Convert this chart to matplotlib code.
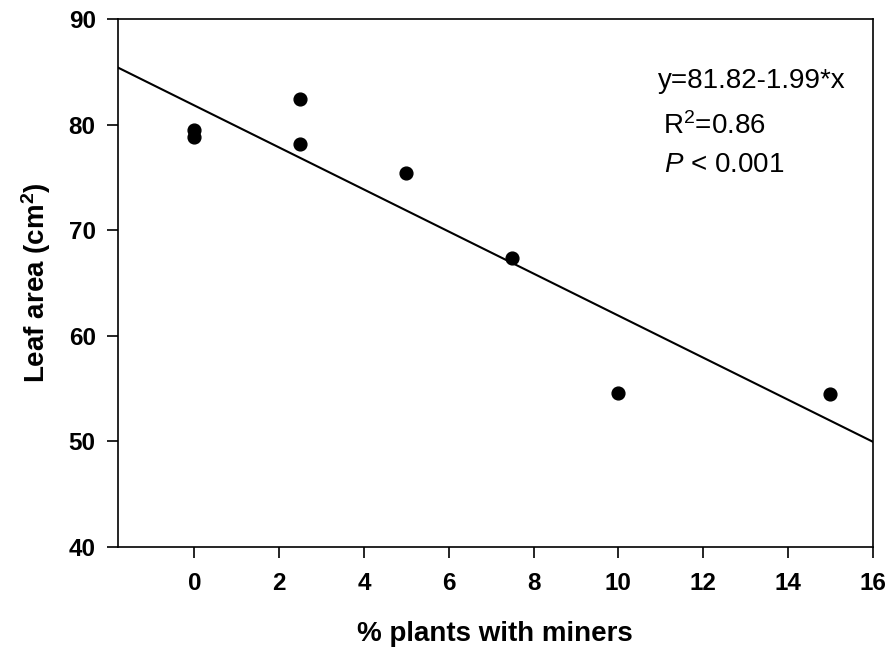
import matplotlib
matplotlib.use("Agg")
import matplotlib.pyplot as plt
import numpy as np

plt.rcParams['font.family'] = ['Liberation Sans', 'DejaVu Sans']
plt.rcParams['mathtext.fontset'] = 'custom'
plt.rcParams['mathtext.rm'] = 'Liberation Sans'
plt.rcParams['mathtext.it'] = 'Liberation Sans:italic'
plt.rcParams['mathtext.bf'] = 'Liberation Sans:bold'

# data
miners = [0, 0, 2.5, 2.5, 5, 7.5, 10, 15]
leaf_area = [79.5, 78.8, 82.4, 78.2, 75.4, 67.4, 54.6, 54.5]
intercept = 81.82
slope = -1.99
xticks = [0, 2, 4, 6, 8, 10, 12, 14, 16]
yticks = [40, 50, 60, 70, 80, 90]

fig = plt.figure(figsize=(8.89, 6.49), dpi=100)
ax = fig.add_axes([0.1327, 0.157, 0.849, 0.8137])

xfit = np.array([-1.8, 16])
ax.plot(xfit, intercept + slope * xfit, color='black', lw=1.5)
ax.plot(miners, leaf_area, 'o', color='black', ms=9.2, zorder=3)

ax.set_xlim(-1.8, 16)
ax.set_ylim(40, 90)
ax.set_xticks(xticks)
ax.set_yticks(yticks)
ax.tick_params(direction='out', length=8, width=1.2, labelsize=17.5)
ax.tick_params(axis='x', pad=10)
ax.tick_params(axis='y', pad=8)
for lab in ax.get_xticklabels() + ax.get_yticklabels():
    lab.set_fontweight('bold')
for sp in ax.spines.values():
    sp.set_linewidth(1.2)

ax.set_xlabel('% plants with miners', fontsize=20, fontweight='bold', labelpad=19)
ax.set_ylabel('Leaf area (cm$^\\mathbf{2}$)', fontsize=20, fontweight='bold', labelpad=11)

ax.text(0.715, 0.869, 'y=81.82-1.99*x', transform=ax.transAxes, fontsize=20)
ax.text(0.722, 0.783, 'R$^{2}$=0.86', transform=ax.transAxes, fontsize=20)
ax.text(0.723, 0.711, '$\\it{P}$ < 0.001', transform=ax.transAxes, fontsize=20)

fig.savefig('out.png', dpi=100)
